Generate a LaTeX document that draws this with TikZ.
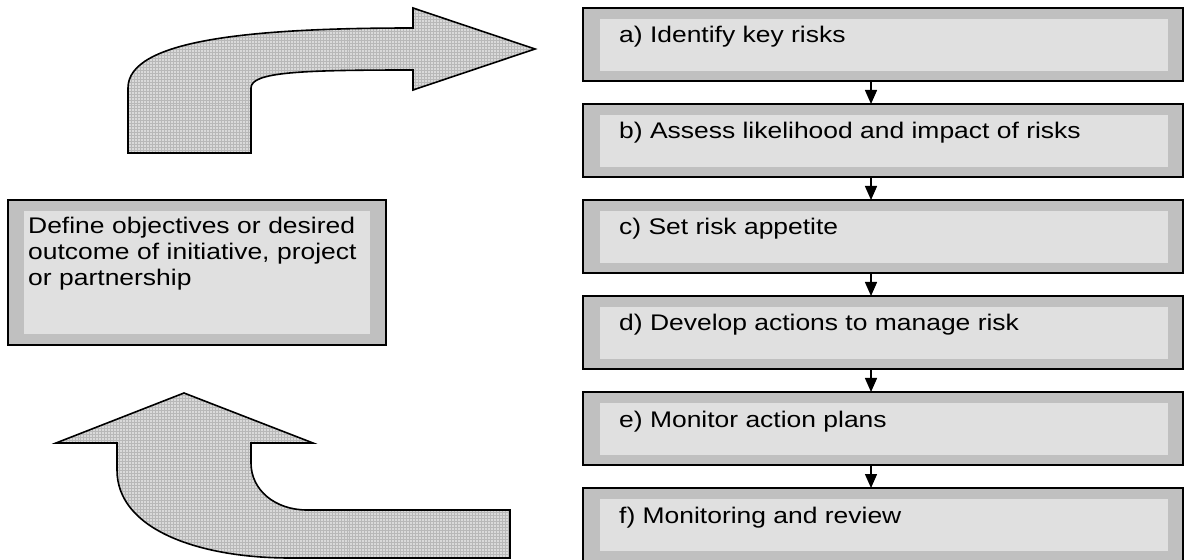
\documentclass[tikz,border=0pt]{standalone}
\usepackage{fontspec}
\setmainfont{Liberation Sans}[FakeStretch=1.17]
\usetikzlibrary{arrows.meta,patterns}

\definecolor{boxrim}{HTML}{C0C0C0}
\definecolor{boxface}{HTML}{E0E0E0}
\definecolor{arrowfill}{HTML}{DADADA}
\definecolor{arrowgrid}{HTML}{B8B8B8}

\tikzset{
  stepbox/.style={draw=black, line width=2bp, fill=boxrim, minimum width=600bp,
    minimum height=73bp, inner sep=0pt, outer sep=0pt, anchor=north west},
  face/.style={fill=boxface},
  steptext/.style={anchor=base west, inner sep=0pt, font=\fontsize{22.6bp}{26bp}\selectfont},
  goaltext/.style={anchor=base west, inner sep=0pt, text width=346bp, align=left,
    font=\fontsize{22.6bp}{26bp}\selectfont},
  flow/.style={line width=1.5bp, -{Triangle[width=12bp,length=14bp]}},
  bigarrow/.style={preaction={fill=arrowfill}, pattern=grid, pattern color=arrowgrid,
    draw=black, line width=1.6bp, line join=miter}
}

\begin{document}
\begin{tikzpicture}[x=1bp, y=-1bp]
\useasboundingbox (0,0) rectangle (1184,560);

% left goal box
\node[stepbox, minimum width=378bp, minimum height=145bp] (goal) at (8,200) {};
\fill[face] ([shift={(16,11)}]goal.north west) rectangle ([shift={(-16,-11)}]goal.south east);
\node[goaltext] (goaltxt) at ([shift={(20,34)}]goal.north west)
  {Define objectives or desired outcome of initiative, project or partnership};

% process steps
\foreach \n/\t [count=\i from 0] in {a/{a) Identify key risks},
    b/{b) Assess likelihood and impact of risks},
    c/{c) Set risk appetite},
    d/{d) Develop actions to manage risk},
    e/{e) Monitor action plans},
    f/{f) Monitoring and review}}{
  \node[stepbox] (\n) at (583,8+96*\i) {};
  \fill[face] ([shift={(17,11)}]\n.north west) rectangle ([shift={(-15,-10)}]\n.south east);
  \node[steptext] (\n txt) at ([shift={(36,35)}]\n.north west) {\t};
}

% connectors between steps
\foreach \p/\q in {a/b, b/c, c/d, d/e, e/f}
  \draw[flow] ([xshift=-12bp]\p.south) -- ([xshift=-12bp]\q.north);

% curved arrow into the first step
\path[bigarrow] (128,153) -- (128,88)
  .. controls (128,40) and (250,28) .. (413,28)
  -- (413,8) -- (535,49) -- (413,90) -- (413,70)
  .. controls (300,70) and (251,72) .. (251,88)
  -- (251,153) -- cycle;

% curved arrow back up to the goal
\path[bigarrow] (184,393) -- (313,443) -- (251,443) -- (251,463)
  .. controls (251,490) and (275,510) .. (307,510)
  -- (510,510) -- (510,558) -- (290,558)
  .. controls (200,558) and (117,530) .. (117,470)
  -- (117,443) -- (56,443) -- cycle;
\end{tikzpicture}
\end{document}
